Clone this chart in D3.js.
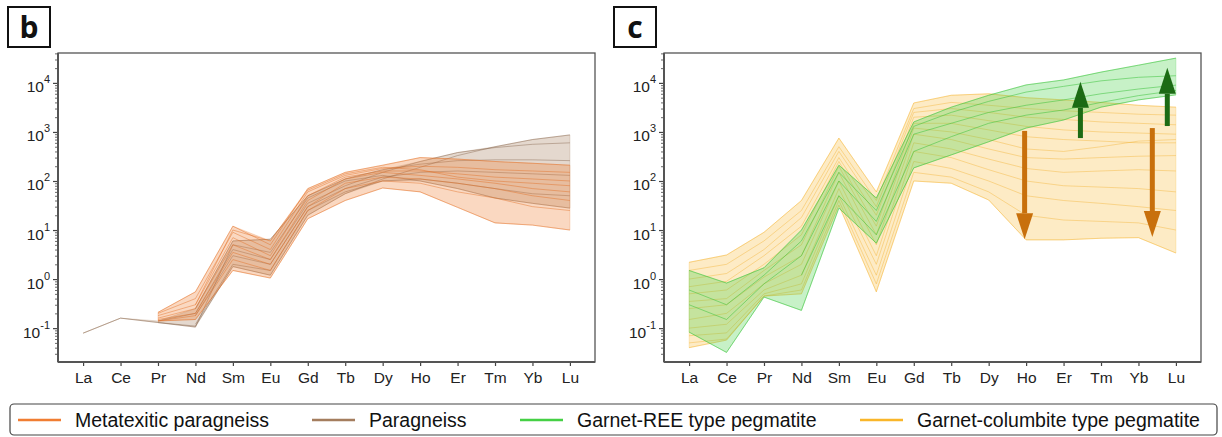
<!DOCTYPE html>
<html>
<head>
<meta charset="utf-8">
<script src="https://cdn.jsdelivr.net/npm/d3@7"></script>
<style>
  body { margin: 0; background: #fff; }
  text { font-family: "Liberation Sans", Arial, sans-serif; }
</style>
</head>
<body>
<svg id="chart" width="1222" height="437"></svg>
<script>
// chondrite-normalised REE patterns, one row per sample (null = not plotted)
var elements = ["La", "Ce", "Pr", "Nd", "Sm", "Eu", "Gd", "Tb", "Dy", "Ho", "Er", "Tm", "Yb", "Lu"];

var paragneiss = [
  [0.079, 0.16, 0.13, 0.11, 1.8, 1.2, 20, 55, 110, 190, 330, 500, 700, 870],
  [null, null, 0.14, 0.2, 4, 2.5, 35, 80, 150, 250, 380, 480, 560, 600],
  [null, null, null, 0.25, 6, 6.5, 50, 110, 170, 220, 260, 270, 270, 260],
  [null, null, null, 0.18, 3, 2, 30, 70, 120, 150, 160, 150, 140, 130],
  [null, null, null, 0.12, 2, 1.5, 25, 60, 100, 110, 90, 70, 55, 50],
  [null, null, 0.13, 0.105, 5, 3.5, 45, 100, 130, 100, 70, 45, 35, 28]
];

var metatexitic = [
  [null, null, 0.21, 0.55, 12, 5, 70, 150, 210, 300, 280, 250, 230, 210],
  [null, null, 0.2, 0.4, 9, 4, 60, 130, 180, 200, 190, 170, 160, 150],
  [null, null, 0.18, 0.3, 7, 3, 50, 120, 160, 160, 140, 120, 110, 100],
  [null, null, 0.16, 0.25, 5, 2.5, 40, 110, 150, 130, 110, 90, 70, 60],
  [null, null, 0.15, 0.2, 3.5, 2, 30, 90, 120, 110, 90, 70, 50, 40],
  [null, null, 0.14, 0.18, 2.5, 1.5, 25, 70, 100, 90, 60, 45, 30, 25],
  [null, null, 0.14, 0.15, 1.5, 1.05, 17, 40, 72, 60, 29, 14, 12.6, 10],
  [null, null, null, 0.3, 10, 6, 65, 140, 190, 170, 120, 100, 90, 80]
];

var garnetREE = [
  [1.5, 0.83, 1.7, 10, 210, 45, 1600, 3200, 5600, 9100, 11500, 16600, 23000, 32000],
  [0.6, 0.3, 1.2, 6, 150, 25, 1300, 2500, 4200, 6500, 8500, 11000, 13000, 14000],
  [0.3, 0.15, 0.8, 3, 100, 15, 900, 1500, 2500, 3500, 4500, 6000, 7500, 9000],
  [null, null, null, 1.2, 50, 8, 400, 800, 1500, 2200, 2800, 4000, 5500, 7000],
  [0.083, 0.032, 0.43, 0.23, 28, 5.4, 185, 340, 630, 1200, 1750, 3200, 4500, 5700]
];

var garnetColumbite = [
  [2.2, 3.1, 9, 40, 750, 60, 3900, 5600, 6000, 5000, 4500, 4000, 3500, 3200],
  [1.5, 2, 6, 25, 500, 40, 3000, 4000, 3500, 3000, 2700, 2500, 2300, 2200],
  [1, 1.3, 4, 18, 400, 30, 2500, 3000, 2500, 2000, 1800, 1600, 1500, 1400],
  [0.7, 0.9, 3, 12, 300, 20, 2000, 2200, 1700, 1300, 1100, 1000, 950, 900],
  [0.5, 0.6, 2, 8, 250, 12, 1500, 1500, 1100, 800, 700, 650, 600, 600],
  [0.35, 0.4, 1.5, 5, 200, 8, 1200, 1000, 700, 450, 400, 500, 650, 700],
  [0.25, 0.3, 1.1, 3, 150, 5, 900, 700, 450, 300, 280, 300, 320, 330],
  [0.15, 0.2, 0.8, 2, 100, 3, 600, 450, 280, 180, 150, 160, 170, 160],
  [0.1, 0.12, 0.6, 1.2, 70, 2, 400, 300, 170, 100, 80, 75, 70, 60],
  [0.07, 0.08, 0.5, 0.8, 50, 1.2, 250, 180, 100, 50, 40, 35, 30, 25],
  [0.05, 0.06, 0.45, 0.6, 40, 0.8, 150, 120, 60, 20, 16, 15, 14, 10],
  [0.04, 0.057, 0.45, 0.5, 32, 0.55, 100, 90, 41, 6.3, 6.3, 6.8, 7, 3.4]
];

var yTickValues = [0.1, 1, 10, 100, 1000, 10000];
var yTickExps = ["-1", "0", "1", "2", "3", "4"];
var legendLabels = ["Metatexitic paragneiss", "Paragneiss", "Garnet-REE type pegmatite", "Garnet-columbite type pegmatite"];

// arrows in panel c: position on the element axis, start and end value
var arrowsUp = [{at: 10.45, from: 750, to: 10500}, {at: 12.77, from: 1320, to: 20300}];
var arrowsDown = [{at: 8.96, from: 1050, to: 6.5}, {at: 12.37, from: 1200, to: 7.2}];

var svg = d3.select("#chart");
var plotTop = 53, plotBottom = 362, plotWidth = 537;

var colMet = "#f07d32", colPar = "#a47d5e", colRee = "#45d045", colCol = "#f9b62a";

var yScale = d3.scaleLog()
    .domain([0.0204, 40700])
    .range([plotBottom, plotTop]);

function drawPanel(left, label, groups, arrows) {
  var xScale = d3.scaleLinear()
      .domain([-0.67, 13.67])
      .range([left, left + plotWidth]);

  var g = svg.append("g");

  groups.forEach(function(grp) {
    // min-max envelope of the samples
    var env = elements.map(function(e, i) {
      var vals = grp.data.map(function(s) { return s[i]; }).filter(function(v) { return v != null; });
      return vals.length ? {i: i, lo: d3.min(vals), hi: d3.max(vals)} : null;
    });
    var area = d3.area()
        .defined(function(d) { return d != null; })
        .x(function(d) { return xScale(d.i); })
        .y0(function(d) { return yScale(d.lo); })
        .y1(function(d) { return yScale(d.hi); });
    g.append("path")
        .datum(env)
        .attr("d", area)
        .attr("fill", grp.fill)
        .attr("fill-opacity", grp.fillOpacity)
        .attr("stroke", grp.fill)
        .attr("stroke-opacity", 0.3)
        .attr("stroke-width", 0.8);

    var line = d3.line()
        .defined(function(d) { return d != null; })
        .x(function(d, i) { return xScale(i); })
        .y(function(d) { return yScale(d); });
    g.selectAll(null)
        .data(grp.data)
        .enter()
        .append("path")
        .attr("d", line)
        .attr("fill", "none")
        .attr("stroke", grp.stroke)
        .attr("stroke-opacity", grp.lineOpacity)
        .attr("stroke-width", 0.8);
  });

  // arrows
  (arrows || []).forEach(function(a) {
    var x = xScale(a.at), y1 = yScale(a.from), y2 = yScale(a.to);
    var dir = y2 < y1 ? 1 : -1;   // 1 = pointing up
    var headLen = 26, headW = 8.5;
    g.append("line")
        .attr("x1", x).attr("x2", x)
        .attr("y1", y1).attr("y2", y2 + dir * headLen)
        .attr("stroke", a.color)
        .attr("stroke-width", 5);
    g.append("path")
        .attr("d", "M" + x + "," + y2 + "L" + (x - headW) + "," + (y2 + dir * headLen) +
                   "L" + (x + headW) + "," + (y2 + dir * headLen) + "Z")
        .attr("fill", a.color);
  });

  // frame
  g.append("rect")
      .attr("x", left).attr("y", plotTop)
      .attr("width", plotWidth).attr("height", plotBottom - plotTop)
      .attr("fill", "none")
      .attr("stroke", "#555")
      .attr("stroke-width", 1.3);

  // x axis
  var xAxis = d3.axisBottom(xScale)
      .tickValues(d3.range(elements.length))
      .tickFormat(function(i) { return elements[i]; })
      .tickSize(4)
      .tickPadding(6);
  var gx = g.append("g")
      .attr("transform", "translate(0," + plotBottom + ")")
      .call(xAxis);
  gx.select(".domain").remove();
  gx.selectAll("line").attr("stroke", "#444").attr("stroke-width", 1.2);
  gx.selectAll("text").attr("font-size", 15.5).attr("fill", "#222")
      .style("font-family", "'Liberation Sans', Arial, sans-serif");

  // y axis, minor ticks
  var minor = [];
  [-2, -1, 0, 1, 2, 3, 4].forEach(function(p) {
    for (var k = 2; k <= 9; k++) {
      var v = k * Math.pow(10, p);
      if (v > yScale.domain()[0] && v < yScale.domain()[1]) minor.push(v);
    }
  });
  var gyMinor = g.append("g")
      .attr("transform", "translate(" + left + ",0)")
      .call(d3.axisLeft(yScale).tickValues(minor).tickSize(3).tickFormat(""));
  gyMinor.select(".domain").remove();
  gyMinor.selectAll("line").attr("stroke", "#444").attr("stroke-width", 0.8);

  var gy = g.append("g")
      .attr("transform", "translate(" + left + ",0)")
      .call(d3.axisLeft(yScale).tickValues(yTickValues).tickSize(5).tickFormat(""));
  gy.select(".domain").remove();
  gy.selectAll("line").attr("stroke", "#444").attr("stroke-width", 1.2);

  var lab = g.selectAll(null)
      .data(yTickValues)
      .enter()
      .append("text")
      .attr("x", left - 8)
      .attr("y", function(d) { return yScale(d) + 9.5; })
      .attr("text-anchor", "end")
      .attr("fill", "#222");
  lab.append("tspan").attr("font-size", 15.5).text("10");
  lab.append("tspan").attr("font-size", 11).attr("dy", -9)
      .text(function(d, i) { return yTickExps[i]; });

  // left & bottom spines
  g.append("line")
      .attr("x1", left).attr("x2", left)
      .attr("y1", plotTop).attr("y2", plotBottom)
      .attr("stroke", "#555").attr("stroke-width", 2);
  g.append("line")
      .attr("x1", left).attr("x2", left + plotWidth)
      .attr("y1", plotBottom).attr("y2", plotBottom)
      .attr("stroke", "#555").attr("stroke-width", 2);

  // panel letter
  g.append("rect")
      .attr("x", left - 50).attr("y", 7)
      .attr("width", 42).attr("height", 40)
      .attr("fill", "#fff")
      .attr("stroke", "#111")
      .attr("stroke-width", 2);
  g.append("text")
      .attr("x", left - 29).attr("y", 38)
      .attr("text-anchor", "middle")
      .attr("font-size", 30)
      .attr("font-weight", "bold")
      .style("font-family", "'Open Sans', 'DejaVu Sans', sans-serif")
      .attr("fill", "#111")
      .text(label);
}

drawPanel(58, "b", [
  {data: paragneiss, fill: colPar, stroke: "#7d5a40", fillOpacity: 0.3, lineOpacity: 0.5},
  {data: metatexitic, fill: colMet, stroke: "#e06c20", fillOpacity: 0.3, lineOpacity: 0.55}
]);

drawPanel(664, "c", [
  {data: garnetColumbite, fill: colCol, stroke: "#f0a818", fillOpacity: 0.27, lineOpacity: 0.45},
  {data: garnetREE, fill: colRee, stroke: "#38c238", fillOpacity: 0.3, lineOpacity: 0.65}
], arrowsUp.map(function(a) { return Object.assign({color: "#1c6b14"}, a); })
   .concat(arrowsDown.map(function(a) { return Object.assign({color: "#c8700c"}, a); })));

// legend
var legendX = [18, 312, 520, 860];
var legendColors = [colMet, colPar, colRee, colCol];
var legend = svg.append("g");
legend.append("rect")
    .attr("x", 10).attr("y", 404)
    .attr("width", 1207).attr("height", 31)
    .attr("rx", 4)
    .attr("fill", "#fff")
    .attr("stroke", "#444")
    .attr("stroke-width", 1.2);
legendLabels.forEach(function(name, i) {
  legend.append("line")
      .attr("x1", legendX[i]).attr("x2", legendX[i] + 43)
      .attr("y1", 420).attr("y2", 420)
      .attr("stroke", legendColors[i])
      .attr("stroke-width", 2.5);
  legend.append("text")
      .attr("x", legendX[i] + 57).attr("y", 427)
      .attr("font-size", 19.5)
      .attr("fill", "#111")
      .text(name);
});
</script>
</body>
</html>
